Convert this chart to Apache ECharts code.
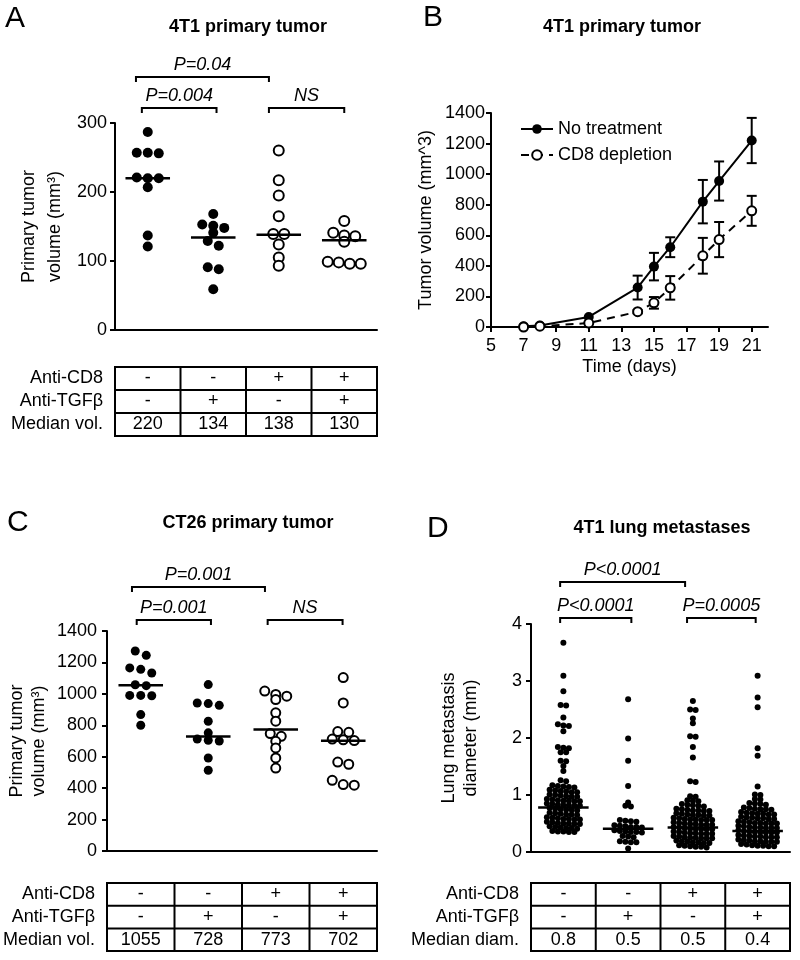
<!DOCTYPE html>
<html>
<head>
<meta charset="utf-8">
<script src="https://cdn.jsdelivr.net/npm/echarts@6/dist/echarts.min.js"></script>
<style>
html, body { margin: 0; padding: 0; background: #fff; }
#container { width: 800px; height: 960px; }
</style>
</head>
<body>
<div id="container"></div>
<script type="text/javascript">
var FONT = '"Liberation Sans", Arial, Helvetica, sans-serif';

// groups (x categories), same order in A, C and D
var groups = ['Control', 'Anti-TGFβ', 'Anti-CD8', 'Anti-CD8 + Anti-TGFβ'];

// table rows
var rowLabels = ['Anti-CD8', 'Anti-TGFβ'];
var antiCD8 = ['-', '-', '+', '+'];
var antiTGFb = ['-', '+', '-', '+'];
var medianVolA = ['220', '134', '138', '130'];
var medianVolC = ['1055', '728', '773', '702'];
var medianDiamD = ['0.8', '0.5', '0.5', '0.4'];

// A: 4T1 primary tumor volume (mm3)
var volA1 = [287, 257, 257, 256, 221, 220, 220, 207, 137, 121];
var volA2 = [168, 153, 151, 148, 141, 129, 122, 91, 88, 59];
var volA3 = [260, 217, 195, 165, 139, 139, 124, 105, 93];
var volA4 = [158, 141, 137, 136, 128, 99, 98, 96, 96];
var medianLineA = [220, 134, 138, 130];

// B: tumor growth
var days = [7, 8, 11, 14, 15, 16, 18, 19, 21];
var noTreat = [5, 10, 66, 258, 395, 522, 820, 955, 1220];
var noTreatErr = [0, 0, 0, 78, 90, 65, 142, 128, 148];
var cd8Depl = [0, 5, 26, 100, 158, 256, 466, 572, 760];
var cd8DeplErr = [0, 0, 0, 10, 38, 77, 117, 115, 98];
var dayTicks = [5, 7, 9, 11, 13, 15, 17, 19, 21];

// C: CT26 primary tumor volume (mm3)
var volC1 = [1273, 1245, 1165, 1156, 1133, 1058, 1052, 990, 990, 988, 868, 800];
var volC2 = [1059, 942, 938, 927, 826, 752, 712, 705, 700, 592, 514];
var volC3 = [1018, 996, 985, 964, 879, 826, 747, 730, 698, 656, 592, 528];
var volC4 = [1104, 942, 760, 755, 712, 708, 703, 566, 552, 450, 423, 419];
var medianLineC = [1055, 728, 773, 702];

// D: lung metastasis diameter (mm)
var diamD1 = [3.67, 3.09, 2.82, 2.58, 2.57, 2.36, 2.24, 2.22, 2.21, 2.12, 1.84, 1.83, 1.82, 1.75, 1.75,
  1.60, 1.59, 1.51, 1.42, 1.26, 1.24,
  1.17, 1.16, 1.15, 1.14, 1.13,
  1.09, 1.08, 1.07, 1.06, 1.05, 1.05,
  1.01, 1.00, 0.99, 0.98, 0.97, 0.97,
  0.93, 0.92, 0.91, 0.90, 0.90, 0.89, 0.89,
  0.85, 0.84, 0.83, 0.82, 0.82, 0.81, 0.81,
  0.77, 0.76, 0.75, 0.74, 0.74, 0.73,
  0.69, 0.68, 0.67, 0.66, 0.66, 0.65,
  0.61, 0.60, 0.59, 0.58, 0.58, 0.57, 0.57,
  0.53, 0.52, 0.51, 0.50, 0.50, 0.49, 0.49,
  0.45, 0.44, 0.43, 0.42, 0.42, 0.41,
  0.37, 0.36, 0.36, 0.35, 0.35];
var diamD2 = [2.68, 1.99, 1.60, 1.16, 0.87, 0.81, 0.80,
  0.56, 0.55, 0.54, 0.53,
  0.47, 0.46, 0.45, 0.44, 0.44, 0.43,
  0.38, 0.37, 0.36, 0.35, 0.35, 0.34,
  0.28, 0.27, 0.26,
  0.19, 0.18, 0.17, 0.17,
  0.06];
var diamD3 = [2.65, 2.50, 2.49, 2.34, 2.26, 2.03, 2.02, 1.84, 1.66, 1.24, 1.23, 0.98, 0.97,
  0.91, 0.90, 0.89,
  0.84, 0.83, 0.82, 0.81, 0.80,
  0.76, 0.75, 0.74, 0.73, 0.73, 0.72, 0.72,
  0.68, 0.67, 0.66, 0.65, 0.65, 0.64, 0.64,
  0.60, 0.59, 0.58, 0.57, 0.57, 0.56, 0.56, 0.56,
  0.52, 0.51, 0.50, 0.49, 0.49, 0.48, 0.48, 0.48,
  0.44, 0.43, 0.42, 0.41, 0.41, 0.40, 0.40, 0.40,
  0.36, 0.35, 0.34, 0.33, 0.33, 0.32, 0.32, 0.32,
  0.28, 0.27, 0.26, 0.25, 0.25, 0.24, 0.24, 0.24,
  0.20, 0.19, 0.18, 0.17, 0.17, 0.16, 0.16,
  0.12, 0.11, 0.10, 0.09, 0.09, 0.08];
var diamD4 = [3.09, 2.71, 2.54, 1.82, 1.69, 1.15,
  1.01, 1.00, 0.93, 0.92,
  0.86, 0.85, 0.84, 0.83,
  0.78, 0.77, 0.76, 0.75, 0.75, 0.74,
  0.70, 0.69, 0.68, 0.67, 0.67, 0.66, 0.66,
  0.62, 0.61, 0.60, 0.59, 0.59, 0.58, 0.58,
  0.54, 0.53, 0.52, 0.51, 0.51, 0.50, 0.50, 0.50,
  0.46, 0.45, 0.44, 0.43, 0.43, 0.42, 0.42, 0.42,
  0.38, 0.37, 0.36, 0.35, 0.35, 0.34, 0.34, 0.34,
  0.30, 0.29, 0.28, 0.27, 0.27, 0.26, 0.26, 0.26,
  0.22, 0.21, 0.20, 0.19, 0.19, 0.18, 0.18, 0.18,
  0.14, 0.13, 0.12, 0.11, 0.11, 0.10, 0.10];
var medianLineD = [0.78, 0.41, 0.43, 0.37];

// plot areas in pixels
var grids = {
    A: {left: 115, top: 123, width: 262, height: 207},
    B: {left: 491, top: 113, width: 277, height: 214},
    C: {left: 107, top: 631, width: 270, height: 220},
    D: {left: 531, top: 624, width: 259, height: 228}
};

// dots of similar value share a row, spread side by side (prism style)
function swarm(values, cat, pxPerUnit, rowH, gap, maxHalf) {
    var sorted = values.slice().sort(function (a, b) { return b - a; });
    var rows = [], cur = null;
    sorted.forEach(function (v) {
        if (!cur || (cur.start - v) * pxPerUnit > rowH) {
            cur = {start: v, items: []};
            rows.push(cur);
        }
        cur.items.push(v);
    });
    var out = [];
    rows.forEach(function (r) {
        var n = r.items.length;
        var step = n > 1 ? Math.min(gap, 2 * maxHalf / (n - 1)) : 0;
        r.items.forEach(function (v, k) {
            out.push({value: [cat, v], symbolOffset: [(k - (n - 1) / 2) * step, 0]});
        });
    });
    return out;
}

function dotSeries(values, cat, axis, g, yMax, filled, size, rowH, gap, maxHalf) {
    return {
        type: 'scatter', xAxisIndex: axis, yAxisIndex: axis,
        symbol: 'circle', symbolSize: size,
        itemStyle: filled ? {color: '#000', opacity: 1} : {color: '#fff', borderColor: '#000', borderWidth: 2, opacity: 1},
        data: swarm(values, cat, g.height / yMax, rowH, gap, maxHalf),
        silent: true
    };
}

function medianSeries(vals, axis, halfFrac) {
    return {
        type: 'custom', xAxisIndex: axis, yAxisIndex: axis,
        data: vals.map(function (v, i) { return [i, Number(v)]; }),
        renderItem: function (params, api) {
            var c = api.coord([api.value(0), api.value(1)]);
            var half = api.size([1, 0])[0] * halfFrac;
            return {type: 'line', shape: {x1: c[0] - half, y1: c[1], x2: c[0] + half, y2: c[1]},
                style: {stroke: '#000', lineWidth: 2.5}};
        },
        z: 5, silent: true
    };
}

function errorSeries(mean, err) {
    return {
        type: 'custom', xAxisIndex: 1, yAxisIndex: 1,
        data: days.map(function (d, i) { return [d, mean[i], err[i]]; }),
        renderItem: function (params, api) {
            var e = api.value(2);
            if (!e) return null;
            var hi = api.coord([api.value(0), api.value(1) + e]);
            var lo = api.coord([api.value(0), api.value(1) - e]);
            var s = {stroke: '#000', lineWidth: 2};
            return {type: 'group', children: [
                {type: 'line', shape: {x1: hi[0], y1: hi[1], x2: lo[0], y2: lo[1]}, style: s},
                {type: 'line', shape: {x1: hi[0] - 5, y1: hi[1], x2: hi[0] + 5, y2: hi[1]}, style: s},
                {type: 'line', shape: {x1: lo[0] - 5, y1: lo[1], x2: lo[0] + 5, y2: lo[1]}, style: s}
            ]};
        },
        silent: true
    };
}

var black2 = {color: '#000', width: 2};
var plain = function (v) { return String(v); };

function catAxis(i) {
    return {
        type: 'category', gridIndex: i, data: groups,
        axisLine: {lineStyle: black2},
        axisTick: {alignWithLabel: true, length: 6, lineStyle: black2},
        axisLabel: {show: false}, splitLine: {show: false}
    };
}

function valAxis(i, max, interval, name, gap, lh, margin) {
    return {
        type: 'value', gridIndex: i, min: 0, max: max, interval: interval,
        name: name, nameLocation: 'middle', nameRotate: 90, nameGap: gap,
        nameTextStyle: {fontSize: 18, fontFamily: FONT, color: '#000', lineHeight: lh},
        axisLine: {show: true, lineStyle: black2},
        axisTick: {show: true, length: 5, lineStyle: black2},
        axisLabel: {fontSize: 18, fontFamily: FONT, color: '#000', margin: margin, formatter: plain},
        splitLine: {show: false}
    };
}

// ---- graphic bits: panel letters, titles, brackets, tables ----
function txt(x, y, s, opt) {
    opt = opt || {};
    return {type: 'text', x: x, y: y, silent: true, style: {
        text: s, fill: '#000', textAlign: opt.align || 'center', textVerticalAlign: 'middle',
        font: (opt.style || 'normal') + ' ' + (opt.weight || 'normal') + ' ' + (opt.size || 18) + 'px ' + FONT
    }};
}

function bandX(g, pos) {
    return g.left + (pos + 0.5) * g.width / 4;
}

function bracket(g, b) {
    var x1 = bandX(g, b.from), x2 = bandX(g, b.to);
    return [
        {type: 'polyline', silent: true, shape: {points: [[x1, b.y + 5], [x1, b.y], [x2, b.y], [x2, b.y + 5]]},
            style: {stroke: '#000', lineWidth: 2, fill: null}},
        txt((x1 + x2) / 2, b.y - 12, b.text, {style: 'italic'})
    ];
}

function table(g, top, rowH, labels, rows) {
    var els = [], band = g.width / 4, s = {stroke: '#000', lineWidth: 2, fill: null};
    els.push({type: 'rect', silent: true, shape: {x: g.left, y: top, width: g.width, height: rowH * 3}, style: s});
    for (var r = 1; r < 3; r++) {
        els.push({type: 'line', silent: true, shape: {x1: g.left, y1: top + r * rowH, x2: g.left + g.width, y2: top + r * rowH}, style: s});
    }
    for (var c = 1; c < 4; c++) {
        els.push({type: 'line', silent: true, shape: {x1: g.left + c * band, y1: top, x2: g.left + c * band, y2: top + rowH * 3}, style: s});
    }
    labels.forEach(function (lab, r) {
        els.push(txt(g.left - 12, top + (r + 0.5) * rowH, lab, {align: 'right'}));
        rows[r].forEach(function (t, c) {
            els.push(txt(g.left + (c + 0.5) * band, top + (r + 0.5) * rowH, t));
        });
    });
    return els;
}

var brackets = {
    A: [{from: -0.18, to: 1.85, y: 77, text: 'P=0.04'},
        {from: -0.09, to: 1.05, y: 108, text: 'P=0.004'},
        {from: 1.85, to: 3.0, y: 108, text: 'NS'}],
    C: [{from: -0.13, to: 1.84, y: 587, text: 'P=0.001'},
        {from: -0.06, to: 1.04, y: 620, text: 'P=0.001'},
        {from: 1.88, to: 2.99, y: 620, text: 'NS'}],
    D: [{from: -0.05, to: 1.88, y: 582, text: 'P<0.0001'},
        {from: -0.05, to: 1.05, y: 618, text: 'P<0.0001'},
        {from: 1.91, to: 2.97, y: 618, text: 'P=0.0005'}]
};

var graphics = [
    txt(5, 19, 'A', {align: 'left', size: 30}),
    txt(423, 18, 'B', {align: 'left', size: 30}),
    txt(7, 523, 'C', {align: 'left', size: 30}),
    txt(427, 529, 'D', {align: 'left', size: 30}),
    txt(248, 27, '4T1 primary tumor', {weight: 'bold'}),
    txt(622, 27, '4T1 primary tumor', {weight: 'bold'}),
    txt(248, 523, 'CT26 primary tumor', {weight: 'bold'}),
    txt(662, 528, '4T1 lung metastases', {weight: 'bold'})
];
['A', 'C', 'D'].forEach(function (k) {
    brackets[k].forEach(function (b) { graphics = graphics.concat(bracket(grids[k], b)); });
});
graphics = graphics.concat(
    table(grids.A, 367, 23, rowLabels.concat(['Median vol.']), [antiCD8, antiTGFb, medianVolA]),
    table(grids.C, 883, 22.7, rowLabels.concat(['Median vol.']), [antiCD8, antiTGFb, medianVolC]),
    table(grids.D, 883, 22.7, rowLabels.concat(['Median diam.']), [antiCD8, antiTGFb, medianDiamD])
);

var dom = document.getElementById('container');
var myChart = echarts.init(dom);

var option = {
    animation: false,
    backgroundColor: '#fff',
    textStyle: {fontFamily: FONT},
    grid: [grids.A, grids.B, grids.C, grids.D],
    legend: {
        orient: 'vertical', left: 515, top: 115, itemWidth: 32, itemHeight: 12, itemGap: 8,
        textStyle: {fontSize: 18, fontFamily: FONT, color: '#000'},
        data: ['No treatment', 'CD8 depletion']
    },
    xAxis: [
        catAxis(0),
        {
            type: 'value', gridIndex: 1, min: 5, max: 22, interval: 2,
            name: 'Time (days)', nameLocation: 'middle', nameGap: 31,
            nameTextStyle: {fontSize: 18, fontFamily: FONT, color: '#000'},
            axisLine: {lineStyle: black2},
            axisTick: {length: 5, lineStyle: black2, customValues: dayTicks},
            axisLabel: {fontSize: 18, fontFamily: FONT, color: '#000', margin: 10, customValues: dayTicks, formatter: plain},
            splitLine: {show: false}
        },
        catAxis(2),
        catAxis(3)
    ],
    yAxis: [
        valAxis(0, 300, 100, 'Primary tumor\nvolume (mm³)', 47, 26, 8),
        valAxis(1, 1400, 200, 'Tumor volume (mm^3)', 55, 20, 6),
        valAxis(2, 1400, 200, 'Primary tumor\nvolume (mm³)', 57, 22, 10),
        valAxis(3, 4, 1, 'Lung metastasis\ndiameter (mm)', 49, 22, 9)
    ],
    series: [
        dotSeries(volA1, 0, 0, grids.A, 300, true, 10, 7, 11, 30),
        dotSeries(volA2, 1, 0, grids.A, 300, true, 10, 7, 11, 30),
        dotSeries(volA3, 2, 0, grids.A, 300, false, 10, 7, 11, 30),
        dotSeries(volA4, 3, 0, grids.A, 300, false, 10, 7, 11, 30),
        medianSeries(medianLineA, 0, 0.34),

        errorSeries(noTreat, noTreatErr),
        errorSeries(cd8Depl, cd8DeplErr),
        {
            type: 'line', name: 'No treatment', xAxisIndex: 1, yAxisIndex: 1,
            data: days.map(function (d, i) { return [d, noTreat[i]]; }),
            symbol: 'circle', symbolSize: 10,
            itemStyle: {color: '#000'}, lineStyle: {color: '#000', width: 2}
        },
        {
            type: 'line', name: 'CD8 depletion', xAxisIndex: 1, yAxisIndex: 1,
            data: days.map(function (d, i) { return [d, cd8Depl[i]]; }),
            symbol: 'circle', symbolSize: 9,
            itemStyle: {color: '#fff', borderColor: '#000', borderWidth: 2},
            lineStyle: {color: '#000', width: 2, type: [8, 6]}
        },

        dotSeries(volC1, 0, 2, grids.C, 1400, true, 9, 6, 11, 30),
        dotSeries(volC2, 1, 2, grids.C, 1400, true, 9, 6, 11, 30),
        dotSeries(volC3, 2, 2, grids.C, 1400, false, 9, 6, 11, 30),
        dotSeries(volC4, 3, 2, grids.C, 1400, false, 9, 6, 11, 30),
        medianSeries(medianLineC, 2, 0.33),

        dotSeries(diamD1, 0, 3, grids.D, 4, true, 6, 3, 5.5, 22),
        dotSeries(diamD2, 1, 3, grids.D, 4, true, 6, 3, 5.5, 22),
        dotSeries(diamD3, 2, 3, grids.D, 4, true, 6, 3, 5.5, 22),
        dotSeries(diamD4, 3, 3, grids.D, 4, true, 6, 3, 5.5, 22),
        medianSeries(medianLineD, 3, 0.39)
    ],
    graphic: graphics
};

myChart.setOption(option);
</script>
</body>
</html>
